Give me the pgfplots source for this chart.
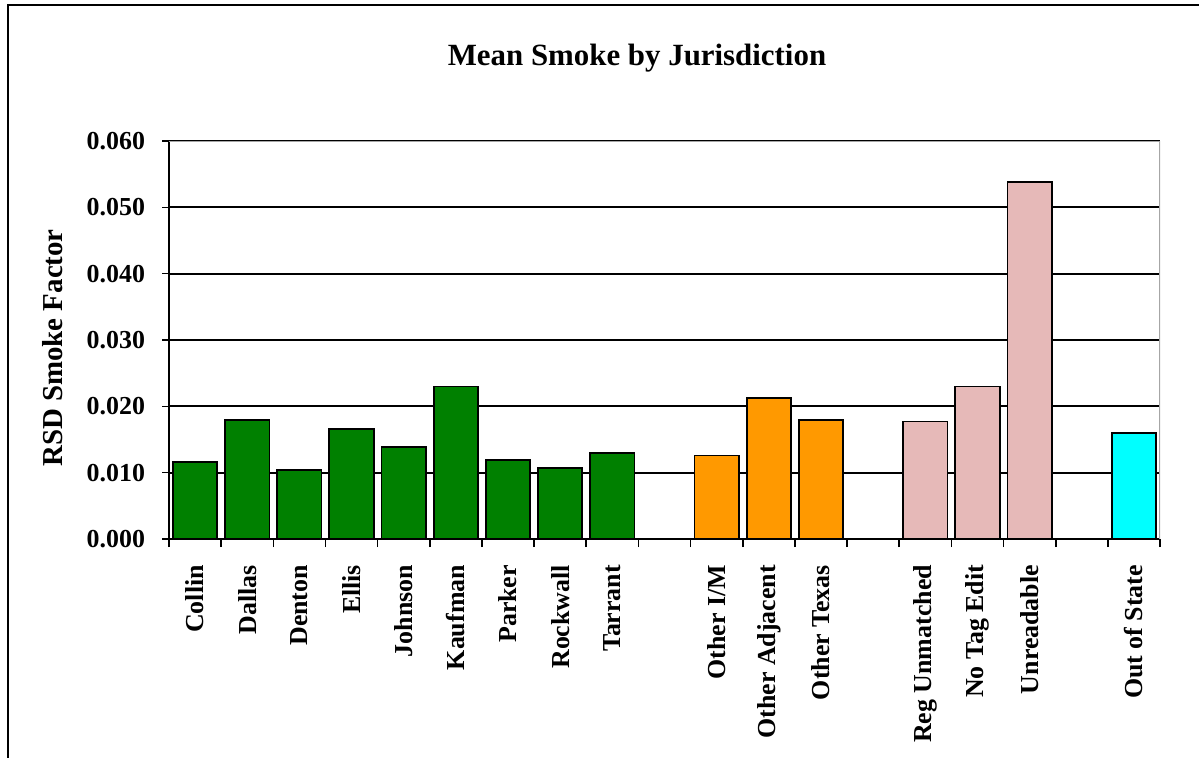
\documentclass[border=0pt]{standalone}
\usepackage{pgfplots}
\pgfplotsset{compat=1.18}
\usepackage{fontspec}
\setmainfont{Liberation Serif}
\definecolor{bgreen}{RGB}{0,128,0}
\definecolor{borange}{RGB}{255,153,0}
\definecolor{bpink}{RGB}{230,185,184}
\definecolor{bcyan}{RGB}{0,255,255}
\begin{document}
\begin{tikzpicture}[x=1bp,y=1bp]
\useasboundingbox (0,0) rectangle (599.5,378.5);
\draw[line width=1bp] (4,-20) -- (4,376) -- (620,376);
\node[font=\fontsize{15.5}{18}\bfseries\selectfont] at (318.5,349.5) {Mean Smoke by Jurisdiction};
\begin{axis}[at={(84.5bp,109bp)}, anchor=south west,
  width=495.5bp, height=199bp, scale only axis,
  ybar, bar width=0.85,
  xmin=-0.5, xmax=18.5, ymin=0, ymax=0.06,
  ytick={0,0.01,0.02,0.03,0.04,0.05,0.06},
  scaled y ticks=false,
  axis x line*=bottom, axis y line*=left,
  axis line style={line width=1bp, black},
  ymajorgrids, grid style={line width=1bp, black},
  tick align=outside,
  major tick length=3.5bp, minor tick length=4bp,
  tick style={line width=0.8bp, black},
  xtick={0,1,2,3,4,5,6,7,8,10,11,12,14,15,16,18},
  xticklabels={Collin,Dallas,Denton,Ellis,Johnson,Kaufman,Parker,Rockwall,Tarrant,Other I/M,Other Adjacent,Other Texas,Reg Unmatched,No Tag Edit,Unreadable,Out of State},
  major x tick style={draw=none},
  minor xtick={-0.5,0.5,...,18.5},
  ticklabel style={font=\fontsize{13}{15}\bfseries\selectfont},
  xticklabel style={yshift=-6bp, rotate=90, anchor=east},
  yticklabel style={xshift=-5bp, /pgf/number format/.cd, fixed, fixed zerofill, precision=3, assume math mode=true},
  ylabel={RSD Smoke Factor},
  every axis y label/.style={at={(axis description cs:-0.107,0.48)}, rotate=90, anchor=base, font=\fontsize{14.5}{17}\bfseries\selectfont},
]
\addplot[fill=bgreen, draw=black, line width=0.9bp, bar shift=0pt] coordinates {(0,0.0116)(1,0.0180)(2,0.0104)(3,0.0166)(4,0.0139)(5,0.0230)(6,0.0119)(7,0.0107)(8,0.0130)};
\addplot[fill=borange, draw=black, line width=0.9bp, bar shift=0pt] coordinates {(10,0.0126)(11,0.0213)(12,0.0180)};
\addplot[fill=bpink, draw=black, line width=0.9bp, bar shift=0pt] coordinates {(14,0.0177)(15,0.0230)(16,0.0538)};
\addplot[fill=bcyan, draw=black, line width=0.9bp, bar shift=0pt] coordinates {(18,0.0160)};
\draw[gray!70, line width=1.2bp] (rel axis cs:0,1) -- (rel axis cs:1,1) -- (rel axis cs:1,0);
\end{axis}
\end{tikzpicture}
\end{document}
